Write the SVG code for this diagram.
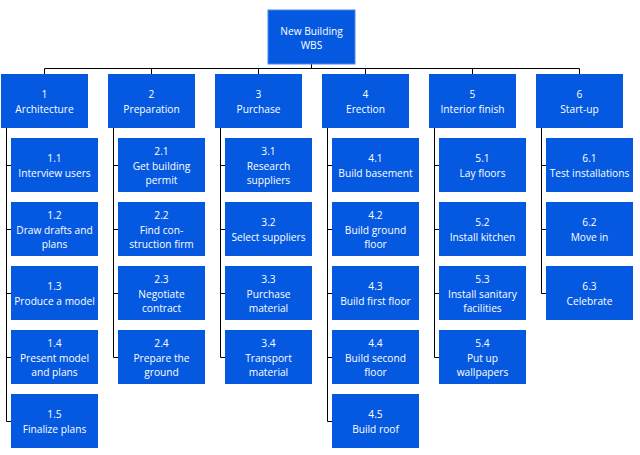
<svg xmlns="http://www.w3.org/2000/svg" width="640" height="455" viewBox="0 0 640 455">
<style>
.n rect{fill:#0559e1}
.n text{fill:#ffffff;font-family:"Open Sans","Noto Sans",sans-serif;font-size:10.2px;text-anchor:middle}
.c path{fill:none;stroke:#000000;stroke-width:1}
</style>
<rect width="640" height="455" fill="#ffffff"/>
<g class="c">
<path d="M311.5 64V68.5M44.5 68.5H579.5M44.5 68.5V74M151.5 68.5V74M258.5 68.5V74M365.5 68.5V74M472.5 68.5V74M579.5 68.5V74"/>
<path d="M6.5 128V421.5M6.5 165.5H11M6.5 229.5H11M6.5 293.5H11M6.5 357.5H11M6.5 421.5H11"/>
<path d="M113.5 128V357.5M113.5 165.5H118M113.5 229.5H118M113.5 293.5H118M113.5 357.5H118"/>
<path d="M220.5 128V357.5M220.5 165.5H225M220.5 229.5H225M220.5 293.5H225M220.5 357.5H225"/>
<path d="M327.5 128V421.5M327.5 165.5H332M327.5 229.5H332M327.5 293.5H332M327.5 357.5H332M327.5 421.5H332"/>
<path d="M434.5 128V357.5M434.5 165.5H439M434.5 229.5H439M434.5 293.5H439M434.5 357.5H439"/>
<path d="M541.5 128V293.5M541.5 165.5H546M541.5 229.5H546M541.5 293.5H546"/>
</g>
<g transform="translate(0,0.7)">
<g id="root" class="n"><rect x="268" y="9.3" width="87" height="54" style="stroke:#4a88ea;stroke-width:1"/><text x="311.5" y="34">New Building</text><text x="311.5" y="48.5">WBS</text></g>
</g>
<g id="nodes" transform="translate(0,0)">
<g id="n1" class="n"><rect x="1" y="74" width="87" height="54"/><text x="44.5" y="98.4">1</text><text x="44.5" y="112.9">Architecture</text></g>
<g id="n2" class="n"><rect x="108" y="74" width="87" height="54"/><text x="151.5" y="98.4">2</text><text x="151.5" y="112.9">Preparation</text></g>
<g id="n3" class="n"><rect x="215" y="74" width="87" height="54"/><text x="258.5" y="98.4">3</text><text x="258.5" y="112.9">Purchase</text></g>
<g id="n4" class="n"><rect x="322" y="74" width="87" height="54"/><text x="365.5" y="98.4">4</text><text x="365.5" y="112.9">Erection</text></g>
<g id="n5" class="n"><rect x="429" y="74" width="87" height="54"/><text x="472.5" y="98.4">5</text><text x="472.5" y="112.9">Interior finish</text></g>
<g id="n6" class="n"><rect x="536" y="74" width="87" height="54"/><text x="579.5" y="98.4">6</text><text x="579.5" y="112.9">Start-up</text></g>

<g id="n1_1" class="n"><rect x="11" y="138" width="87" height="54"/><text x="54.5" y="162.2">1.1</text><text x="54.5" y="176.7">Interview users</text></g>
<g id="n1_2" class="n"><rect x="11" y="202" width="87" height="54"/><text x="54.5" y="219">1.2</text><text x="54.5" y="233.5">Draw drafts and</text><text x="54.5" y="248">plans</text></g>
<g id="n1_3" class="n"><rect x="11" y="266" width="87" height="54"/><text x="54.5" y="290.2">1.3</text><text x="54.5" y="304.7">Produce a model</text></g>
<g id="n1_4" class="n"><rect x="11" y="330" width="87" height="54"/><text x="54.5" y="347">1.4</text><text x="54.5" y="361.5">Present model</text><text x="54.5" y="376">and plans</text></g>
<g id="n1_5" class="n"><rect x="11" y="394" width="87" height="54"/><text x="54.5" y="418.2">1.5</text><text x="54.5" y="432.7">Finalize plans</text></g>

<g id="n2_1" class="n"><rect x="118" y="138" width="87" height="54"/><text x="161.5" y="155">2.1</text><text x="161.5" y="169.5">Get building</text><text x="161.5" y="184">permit</text></g>
<g id="n2_2" class="n"><rect x="118" y="202" width="87" height="54"/><text x="161.5" y="219">2.2</text><text x="161.5" y="233.5">Find con-</text><text x="161.5" y="248">struction firm</text></g>
<g id="n2_3" class="n"><rect x="118" y="266" width="87" height="54"/><text x="161.5" y="283">2.3</text><text x="161.5" y="297.5">Negotiate</text><text x="161.5" y="312">contract</text></g>
<g id="n2_4" class="n"><rect x="118" y="330" width="87" height="54"/><text x="161.5" y="347">2.4</text><text x="161.5" y="361.5">Prepare the</text><text x="161.5" y="376">ground</text></g>

<g id="n3_1" class="n"><rect x="225" y="138" width="87" height="54"/><text x="268.5" y="155">3.1</text><text x="268.5" y="169.5">Research</text><text x="268.5" y="184">suppliers</text></g>
<g id="n3_2" class="n"><rect x="225" y="202" width="87" height="54"/><text x="268.5" y="226.2">3.2</text><text x="268.5" y="240.7">Select suppliers</text></g>
<g id="n3_3" class="n"><rect x="225" y="266" width="87" height="54"/><text x="268.5" y="283">3.3</text><text x="268.5" y="297.5">Purchase</text><text x="268.5" y="312">material</text></g>
<g id="n3_4" class="n"><rect x="225" y="330" width="87" height="54"/><text x="268.5" y="347">3.4</text><text x="268.5" y="361.5">Transport</text><text x="268.5" y="376">material</text></g>

<g id="n4_1" class="n"><rect x="332" y="138" width="87" height="54"/><text x="375.5" y="162.2">4.1</text><text x="375.5" y="176.7">Build basement</text></g>
<g id="n4_2" class="n"><rect x="332" y="202" width="87" height="54"/><text x="375.5" y="219">4.2</text><text x="375.5" y="233.5">Build ground</text><text x="375.5" y="248">floor</text></g>
<g id="n4_3" class="n"><rect x="332" y="266" width="87" height="54"/><text x="375.5" y="290.2">4.3</text><text x="375.5" y="304.7">Build first floor</text></g>
<g id="n4_4" class="n"><rect x="332" y="330" width="87" height="54"/><text x="375.5" y="347">4.4</text><text x="375.5" y="361.5">Build second</text><text x="375.5" y="376">floor</text></g>
<g id="n4_5" class="n"><rect x="332" y="394" width="87" height="54"/><text x="375.5" y="418.2">4.5</text><text x="375.5" y="432.7">Build roof</text></g>

<g id="n5_1" class="n"><rect x="439" y="138" width="87" height="54"/><text x="482.5" y="162.2">5.1</text><text x="482.5" y="176.7">Lay floors</text></g>
<g id="n5_2" class="n"><rect x="439" y="202" width="87" height="54"/><text x="482.5" y="226.2">5.2</text><text x="482.5" y="240.7">Install kitchen</text></g>
<g id="n5_3" class="n"><rect x="439" y="266" width="87" height="54"/><text x="482.5" y="283">5.3</text><text x="482.5" y="297.5">Install sanitary</text><text x="482.5" y="312">facilities</text></g>
<g id="n5_4" class="n"><rect x="439" y="330" width="87" height="54"/><text x="482.5" y="347">5.4</text><text x="482.5" y="361.5">Put up</text><text x="482.5" y="376">wallpapers</text></g>

<g id="n6_1" class="n"><rect x="546" y="138" width="87" height="54"/><text x="589.5" y="162.2">6.1</text><text x="589.5" y="176.7">Test installations</text></g>
<g id="n6_2" class="n"><rect x="546" y="202" width="87" height="54"/><text x="589.5" y="226.2">6.2</text><text x="589.5" y="240.7">Move in</text></g>
<g id="n6_3" class="n"><rect x="546" y="266" width="87" height="54"/><text x="589.5" y="290.2">6.3</text><text x="589.5" y="304.7">Celebrate</text></g>
</g>
</svg>
